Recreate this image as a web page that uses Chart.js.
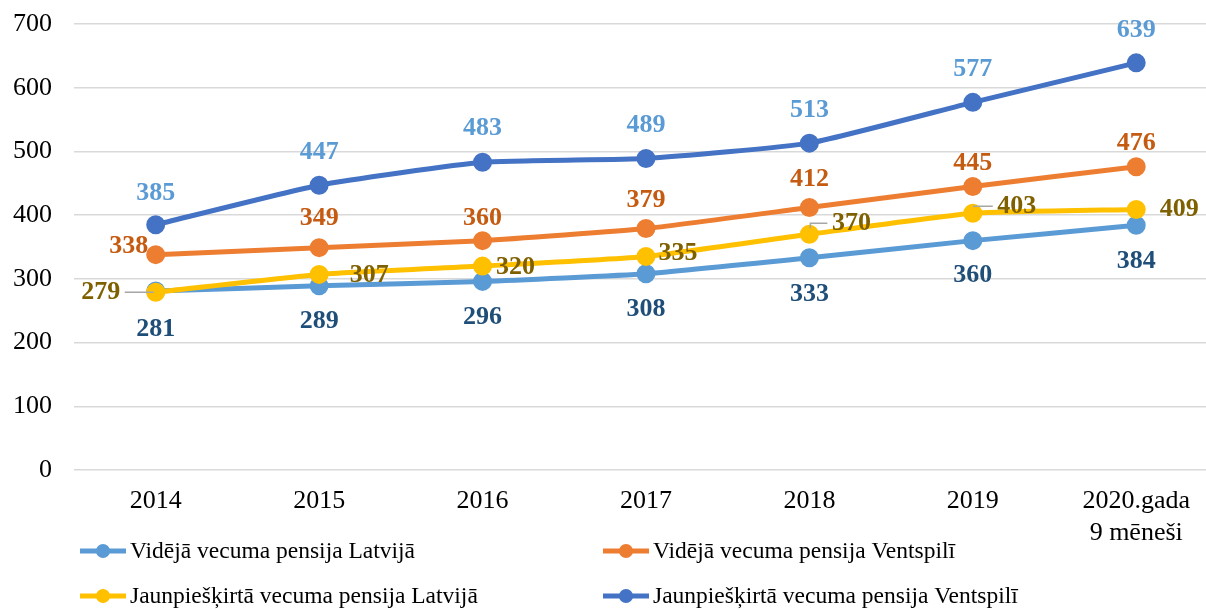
<!DOCTYPE html>
<html><head><meta charset="utf-8">
<script src="https://cdn.jsdelivr.net/npm/chart.js@4/dist/chart.umd.min.js"></script>
<style>html,body{margin:0;padding:0;background:#fff}#wrap{width:1206px;height:610px;position:relative}</style>
</head><body><div id="wrap"><canvas id="c" width="1206" height="610"></canvas></div>
<script>
const categories = ["2014","2015","2016","2017","2018","2019",["2020.gada","9 mēneši"]];
const seriesNames = ["Vidējā vecuma pensija Latvijā","Vidējā vecuma pensija Ventspilī","Jaunpiešķirtā vecuma pensija Latvijā","Jaunpiešķirtā vecuma pensija Ventspilī"];
const avgLatvia = [281,289,296,308,333,360,384];
const avgVentspils = [338,349,360,379,412,445,476];
const newLatvia = [279,307,320,335,370,403,409];
const newVentspils = [385,447,483,489,513,577,639];
const yTicks = [0,100,200,300,400,500,600,700];

const lineColors = ["#5B9BD5","#ED7D31","#FFC000","#4472C4"];
const labelColors = ["#1F4E79","#C55A11","#7F6000","#5B9BD5"];
// label offsets (dx, dy) from point, in pixels
const labelOffsets = [
  [[0,38],[0,35],[0,36],[0,36],[0,36],[0,35],[0,36]],
  [[-27,-8],[0,-29],[0,-22],[0,-28],[0,-28],[0,-23],[0,-23]],
  [[-55,0],[50,1],[33,1],[32,-3],[42,-11],[44,-7],[43,0]],
  [[0,-31],[0,-33],[0,-34],[0,-33],[0,-33],[0,-33],[0,-33]]
];
const SERIF = "'Liberation Serif','Times New Roman',serif";

function pts(arr){ return arr.map((v,i)=>({x:i,y:v})); }
const allSeries = [avgLatvia, avgVentspils, newLatvia, newVentspils];

const datasets = allSeries.map((s,k)=>({
  label: seriesNames[k],
  data: pts(s),
  borderColor: lineColors[k],
  backgroundColor: lineColors[k],
  pointBackgroundColor: lineColors[k],
  pointBorderColor: lineColors[k],
  borderWidth: 5,
  pointRadius: 7,
  pointHoverRadius: 7,
  tension: 0.15,
  clip: false,
  order: 4-k
}));

const labelsPlugin = {
  id:'labels',
  afterDatasetsDraw(chart){
    const ctx = chart.ctx;
    ctx.save();
    ctx.font = "bold 26px " + SERIF;
    ctx.textAlign='center'; ctx.textBaseline='middle';
    chart.data.datasets.forEach((ds,k)=>{
      const meta = chart.getDatasetMeta(k);
      meta.data.forEach((p,i)=>{
        const off = labelOffsets[k][i];
        const tx = p.x+off[0], ty = p.y+off[1];
        if(k===2){
          ctx.strokeStyle='#A6A6A6'; ctx.lineWidth=1.5;
          if(i===0){ ctx.beginPath(); ctx.moveTo(tx+24,ty); ctx.lineTo(p.x-2,ty); ctx.stroke(); }
          if(i===4||i===5){ ctx.beginPath(); ctx.moveTo(p.x+1,p.y-6); ctx.lineTo(p.x+1,ty); ctx.lineTo(tx-24,ty); ctx.stroke(); }
        }
        ctx.fillStyle = labelColors[k];
        ctx.fillText(String(ds.data[i].y), tx, ty);
      });
    });
    ctx.restore();
  }
};

const legendPlugin = {
  id:'customLegend',
  afterDraw(chart){
    const ctx = chart.ctx;
    ctx.save();
    ctx.font = "23.5px " + SERIF;
    ctx.textBaseline='middle'; ctx.textAlign='left';
    const colX = [80,603];
    const rowY = [551,596];
    [0,1,2,3].forEach((k,j)=>{
      const x = colX[j%2], y = rowY[Math.floor(j/2)];
      const ds = chart.data.datasets[k];
      ctx.strokeStyle = ds.borderColor; ctx.lineWidth = 5;
      ctx.beginPath(); ctx.moveTo(x,y); ctx.lineTo(x+46,y); ctx.stroke();
      ctx.fillStyle = ds.borderColor;
      ctx.beginPath(); ctx.arc(x+23,y,7,0,Math.PI*2); ctx.fill();
      ctx.fillStyle = '#000';
      ctx.fillText(ds.label, x+50, y+1);
    });
    ctx.restore();
  }
};

new Chart(document.getElementById('c'), {
  type:'line',
  data:{ datasets },
  options:{
    responsive:false, animation:false,
    layout:{ autoPadding:false, padding:{ top:24, right:0, bottom:0, left:0 } },
    plugins:{ legend:{display:false}, tooltip:{enabled:false} },
    scales:{
      x:{
        type:'linear', min:-0.5, max:6.427,
        afterBuildTicks(scale){ scale.ticks = categories.map((c,i)=>({value:i})); },
        afterFit(scale){ scale.height = 140; scale.paddingLeft = 0; scale.paddingRight = 0; },
        grid:{display:false, drawTicks:false},
        border:{display:false},
        ticks:{ padding:16, color:'#000', font:{family:SERIF, size:26}, maxRotation:0, autoSkip:false,
          callback:(v)=>categories[v] }
      },
      y:{
        min:0, max:700,
        afterBuildTicks(scale){ scale.ticks = yTicks.map(v=>({value:v})); },
        afterFit(scale){ scale.width = 74; scale.paddingTop = 0; scale.paddingBottom = 0; },
        grid:{ color:'#D9D9D9', lineWidth:1.5, drawTicks:false },
        border:{display:false},
        ticks:{ padding:22, color:'#000', font:{family:SERIF, size:26} }
      }
    }
  },
  plugins:[labelsPlugin, legendPlugin]
});
</script></body></html>
